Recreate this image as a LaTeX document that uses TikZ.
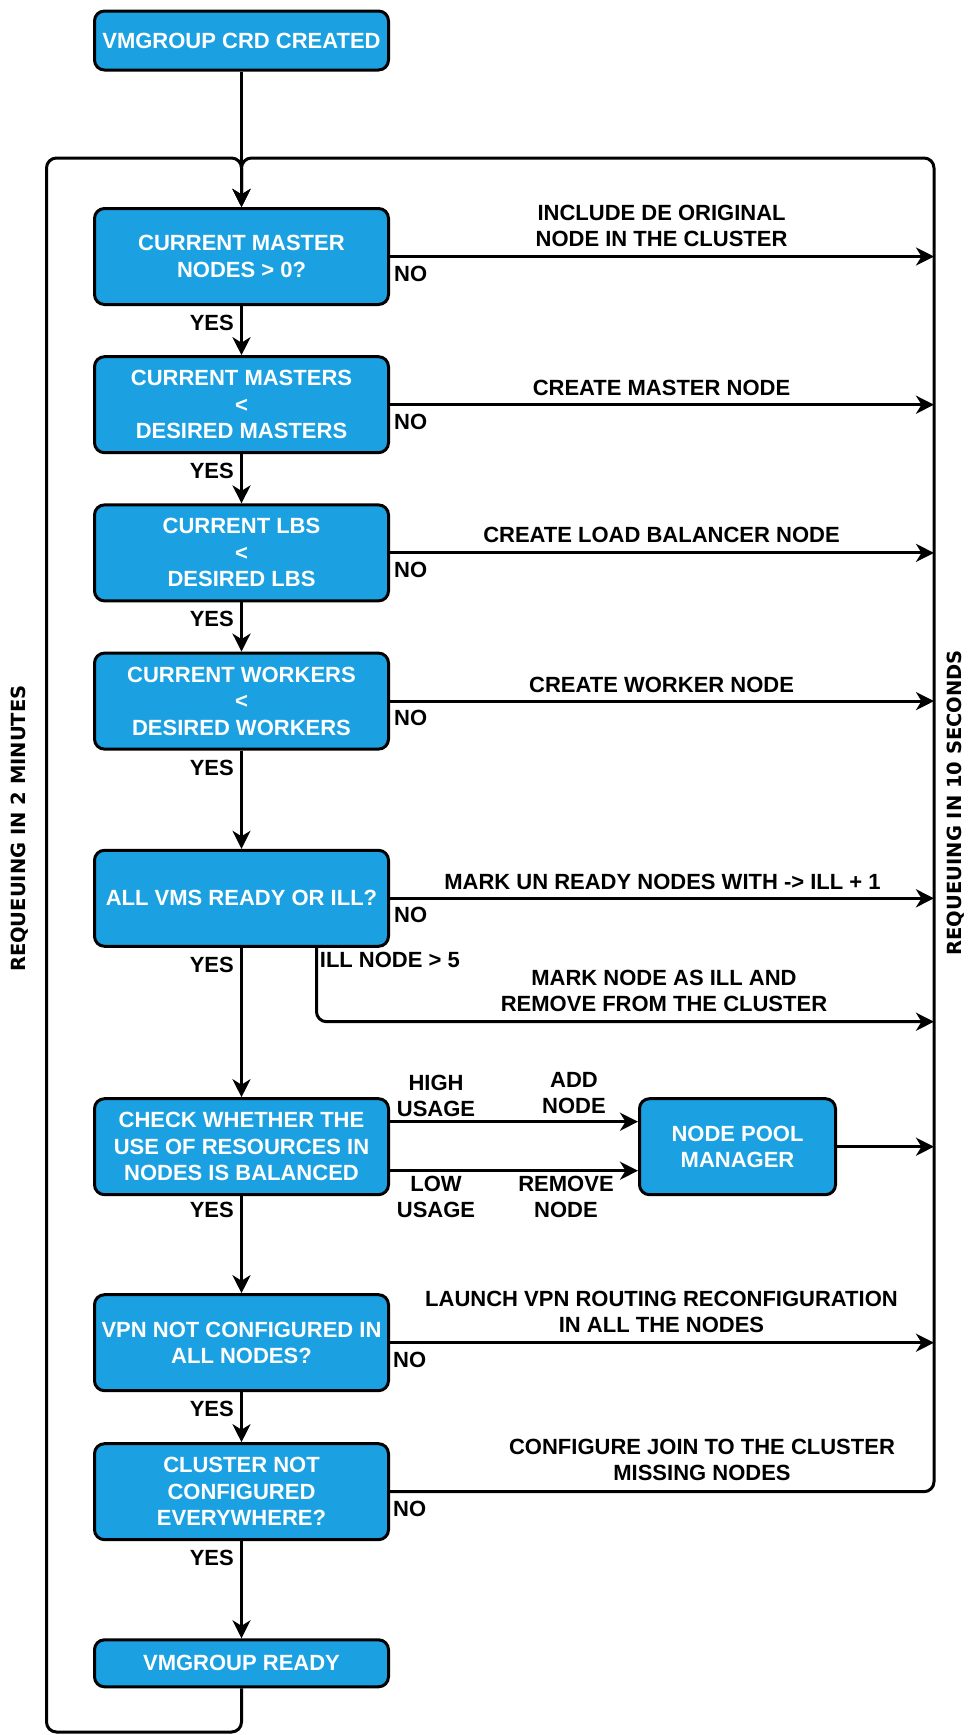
\documentclass[tikz,border=0pt]{standalone}
\usepackage{fontspec}
\setmainfont{Liberation Sans}
\newfontfamily\sidefont{DejaVu Sans}
\usetikzlibrary{arrows.meta}
\definecolor{boxblue}{HTML}{1BA1E2}
\begin{document}
\begin{tikzpicture}[x=1pt,y=-1pt,
  box/.style={draw=black, line width=3pt, fill=boxblue, rounded corners=10pt, text=white,
    font=\bfseries\fontsize{22}{26.5}\selectfont, align=center,
    minimum width=294pt, minimum height=96pt, inner sep=0pt},
  lbl/.style={font=\bfseries\fontsize{22}{26}\selectfont, align=center, inner sep=0pt},
  side/.style={font=\sidefont\bfseries\fontsize{19.5}{22}\selectfont, inner sep=0pt, rotate=90},
  conn/.style={line width=3pt, -{Stealth[length=18pt,width=18pt,inset=5.5pt]}},
]
\useasboundingbox (0,0) rectangle (969,1735);

% boxes
\node[box, minimum height=59pt] (start) at (241.5,40.5) {VMGROUP CRD CREATED};
\node[box] (b2) at (241.5,256.5) {CURRENT MASTER\\NODES > 0?};
\node[box] (b3) at (241.5,404.7) {CURRENT MASTERS\\<\\DESIRED MASTERS};
\node[box] (b4) at (241.5,552.9) {CURRENT LBS\\<\\DESIRED LBS};
\node[box] (b5) at (241.5,701.1) {CURRENT WORKERS\\<\\DESIRED WORKERS};
\node[box] (b6) at (241.5,898.3) {ALL VMS READY OR ILL?};
\node[box] (b7) at (241.5,1146.7) {CHECK WHETHER THE\\USE OF RESOURCES IN\\NODES IS BALANCED};
\node[box, minimum width=196pt] (npm) at (737.5,1146.7) {NODE POOL\\MANAGER};
\node[box] (b8) at (241.5,1342.7) {VPN NOT CONFIGURED IN\\ALL NODES?};
\node[box] (b9) at (241.5,1491.7) {CLUSTER NOT\\CONFIGURED\\EVERYWHERE?};
\node[box, minimum height=47pt] (ready) at (241.5,1663.3) {VMGROUP READY};

% frame coordinates
\coordinate (R) at (934,0);
\coordinate (T) at (241.5,158);
\coordinate (TL) at (46.5,158);
\coordinate (TR) at (934,158);
\coordinate (BL) at (46.5,1732);
\coordinate (B) at (241.5,1732);
\coordinate (illR) at (934,1021.7);

% main flow
\draw[conn] (start) -- (b2);
\draw[conn] (b2) -- (b3);
\draw[conn] (b3) -- (b4);
\draw[conn] (b4) -- (b5);
\draw[conn] (b5) -- (b6);
\draw[conn] (b6) -- (b7);
\draw[conn] (b7) -- (b8);
\draw[conn] (b8) -- (b9);
\draw[conn] (b9) -- (ready);

% loops
\draw[conn, rounded corners=10pt] (ready.south) -- (B) -- (BL) -- (TL) -- (T) -- (b2.north);
\draw[conn, rounded corners=10pt] (b9.east) -- (b9.east -| TR) -- (TR) -- (T) -- (b2.north);

% right branches
\draw[conn] (b2.east) -- (b2.east -| R);
\draw[conn] (b3.east) -- (b3.east -| R);
\draw[conn] (b4.east) -- (b4.east -| R);
\draw[conn] (b5.east) -- (b5.east -| R);
\draw[conn] (b6.east) -- (b6.east -| R);
\draw[conn, rounded corners=10pt] ([xshift=75pt]b6.south) |- (illR);
\draw[conn] ([yshift=25pt]b7.east) -- ([yshift=25pt]npm.west);
\draw[conn] ([yshift=-24pt]b7.east) -- ([yshift=-24pt]npm.west);
\draw[conn] (npm.east) -- (npm.east -| R);
\draw[conn] (b8.east) -- (b8.east -| R);

% branch labels
\node[lbl] (l2) at (661.6,226.3) {INCLUDE DE ORIGINAL\\NODE IN THE CLUSTER};
\node[lbl] (l3) at (661.5,388.3) {CREATE MASTER NODE};
\node[lbl] (l4) at (661.5,535.4) {CREATE LOAD BALANCER NODE};
\node[lbl] (l5) at (661.6,684.5) {CREATE WORKER NODE};
\node[lbl] (l6) at (662.5,881.7) {MARK UN READY NODES WITH -> ILL + 1};
\node[lbl] (l6b) at (664,990.8) {MARK NODE AS ILL AND\\REMOVE FROM THE CLUSTER};
\node[lbl, anchor=west] (ill) at (319.7,960) {ILL NODE > 5};
\node[lbl] (high) at (436,1096.3) {HIGH\\USAGE};
\node[lbl] (add) at (574,1093) {ADD\\NODE};
\node[lbl] (low) at (436,1196.7) {LOW\\USAGE};
\node[lbl] (rem) at (566,1197.3) {REMOVE\\NODE};
\node[lbl] (l8) at (661.5,1312) {LAUNCH VPN ROUTING RECONFIGURATION\\IN ALL THE NODES};
\node[lbl] (l9) at (702,1459.7) {CONFIGURE JOIN TO THE CLUSTER\\MISSING NODES};

% NO labels
\node[lbl, anchor=west] (no2) at (394,273.5) {NO};
\node[lbl, anchor=west] (no3) at (394,421.7) {NO};
\node[lbl, anchor=west] (no4) at (394,569.9) {NO};
\node[lbl, anchor=west] (no5) at (394,718.1) {NO};
\node[lbl, anchor=west] (no6) at (394,915.3) {NO};
\node[lbl, anchor=west] (no8) at (393,1359.7) {NO};
\node[lbl, anchor=west] (no9) at (393,1508.7) {NO};

% YES labels
\node[lbl, anchor=east] (y2) at (234,323) {YES};
\node[lbl, anchor=east] (y3) at (234,471.2) {YES};
\node[lbl, anchor=east] (y4) at (234,619.4) {YES};
\node[lbl, anchor=east] (y5) at (234,767.6) {YES};
\node[lbl, anchor=east] (y6) at (234,964.8) {YES};
\node[lbl, anchor=east] (y7) at (234,1210) {YES};
\node[lbl, anchor=east] (y8) at (234,1409.2) {YES};
\node[lbl, anchor=east] (y9) at (234,1558.2) {YES};

% side labels
\node[side] (sl) at (19.5,828.7) {REQUEUING IN 2 MINUTES};
\node[side] (sr) at (955.5,802.7) {REQUEUING IN 10 SECONDS};
\end{tikzpicture}
\end{document}
